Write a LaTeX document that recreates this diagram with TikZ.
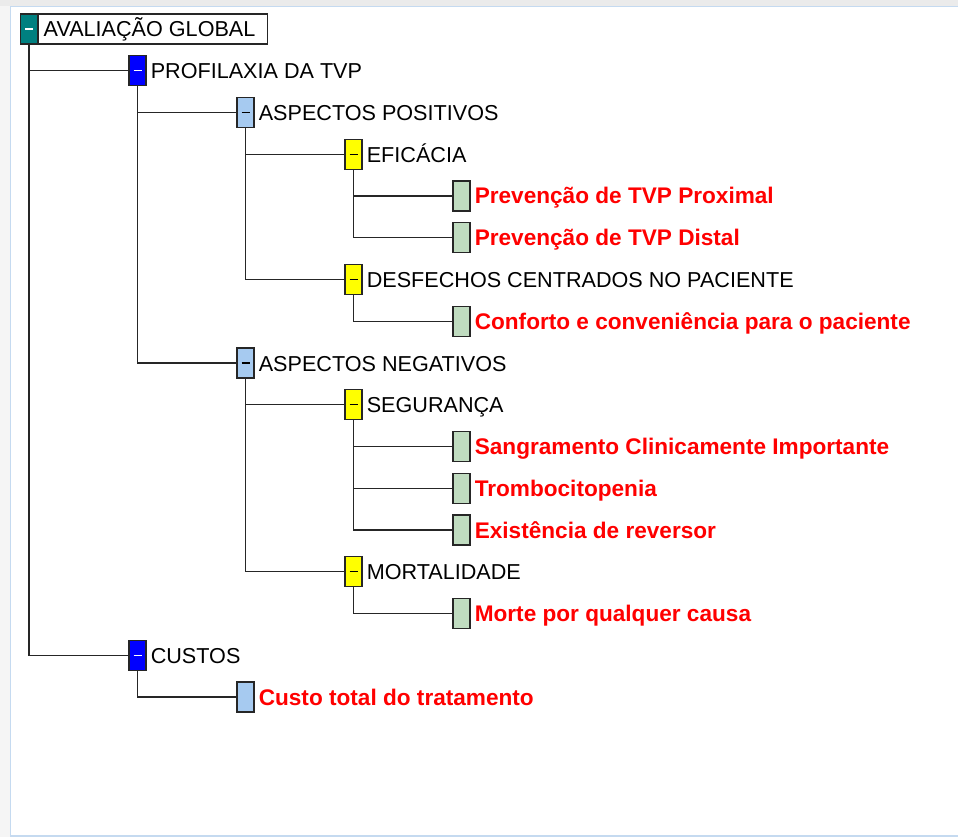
\documentclass[tikz,border=0pt]{standalone}
\usepackage{fontspec}
\setmainfont{Liberation Sans}
\usetikzlibrary{positioning}
\definecolor{tealbox}{RGB}{0,128,128}
\definecolor{bluebox}{RGB}{0,0,255}
\definecolor{skybox}{RGB}{166,202,240}
\definecolor{yellowbox}{RGB}{255,255,0}
\definecolor{greenbox}{RGB}{192,220,192}
\definecolor{framecol}{RGB}{197,218,240}
\newcommand{\boxdash}[1]{\textcolor{#1}{\rule{8pt}{1.3pt}}}
\begin{document}
\begin{tikzpicture}[x=1pt,y=-1pt,
  tbox/.style={draw=black!85,line width=1.2pt,minimum width=17pt,minimum height=30pt,inner sep=0pt},
  lvl0/.style={tbox,fill=tealbox},
  lvl1/.style={tbox,fill=bluebox},
  lvl2/.style={tbox,fill=skybox},
  lvl3/.style={tbox,fill=yellowbox},
  leaf/.style={tbox,fill=greenbox},
  txt/.style={inner sep=0pt,text height=16pt,text depth=0pt,font=\fontsize{21.6}{24}\selectfont},
  crit/.style={txt,text=red,font=\fontsize{22.6}{24}\selectfont\bfseries},
  rootlbl/.style={txt,draw=black!85,line width=1.2pt,fill=white,inner xsep=5pt,inner ysep=7pt},
  link/.style={draw=black!85,line width=1.2pt}]
% frame of the window
\useasboundingbox (0,0) rectangle (958,837);
\fill[black!8] (0,0) rectangle (958,6);
\fill[black!4] (0,6) rectangle (10,837);
\draw[framecol,line width=1.2pt] (958,6.5) -- (10.5,6.5) -- (10.5,836) -- (958,836);
% root
\node[lvl0] at (29,29) (av) {\boxdash{white}};
\node[rootlbl, right=0pt of av] (avt) {AVALIAÇÃO GLOBAL\kern7pt};
% profilaxia
\node[lvl1] at (137.5,70.75) (prof) {\boxdash{white}}; \node[txt, right=4pt of prof] (proft) {PROFILAXIA DA TVP};
\node[lvl2] at (245.5,112.5) (pos) {\boxdash{black}}; \node[txt, right=4pt of pos] (post) {ASPECTOS POSITIVOS};
\node[lvl3] at (353.5,154.25) (efic) {\boxdash{black}}; \node[txt, right=4pt of efic] (efict) {EFICÁCIA};
\node[leaf] at (461.5,196) (prox) {}; \node[crit, right=4pt of prox] (proxt) {Prevenção de TVP Proximal};
\node[leaf] at (461.5,237.75) (dist) {}; \node[crit, right=4pt of dist] (distt) {Prevenção de TVP Distal};
\node[lvl3] at (353.5,279.5) (desf) {\boxdash{black}}; \node[txt, right=4pt of desf] (desft) {DESFECHOS CENTRADOS NO PACIENTE};
\node[leaf] at (461.5,321.25) (conf) {}; \node[crit, right=4pt of conf] (conft) {Conforto e conveniência para o paciente};
% aspectos negativos
\node[lvl2] at (245.5,363) (neg) {\boxdash{black}}; \node[txt, right=4pt of neg] (negt) {ASPECTOS NEGATIVOS};
\node[lvl3] at (353.5,404.75) (seg) {\boxdash{black}}; \node[txt, right=4pt of seg] (segt) {SEGURANÇA};
\node[leaf] at (461.5,446.5) (sang) {}; \node[crit, right=4pt of sang] (sangt) {Sangramento Clinicamente Importante};
\node[leaf] at (461.5,488.25) (tromb) {}; \node[crit, right=4pt of tromb] (trombt) {Trombocitopenia};
\node[leaf] at (461.5,530) (exist) {}; \node[crit, right=4pt of exist] (existt) {Existência de reversor};
\node[lvl3] at (353.5,571.75) (mort) {\boxdash{black}}; \node[txt, right=4pt of mort] (mortt) {MORTALIDADE};
\node[leaf] at (461.5,613.5) (morte) {}; \node[crit, right=4pt of morte] (mortet) {Morte por qualquer causa};
% custos
\node[lvl1] at (137.5,655.25) (cust) {\boxdash{white}}; \node[txt, right=4pt of cust] (custt) {CUSTOS};
\node[lvl2] at (245.5,697) (ctot) {}; \node[crit, right=4pt of ctot] (ctott) {Custo total do tratamento};
% connectors
\draw[link] (av.south) |- (prof.west) (av.south) |- (cust.west);
\draw[link] (prof.south) |- (pos.west) (prof.south) |- (neg.west);
\draw[link] (pos.south) |- (efic.west) (pos.south) |- (desf.west);
\draw[link] (efic.south) |- (prox.west) (efic.south) |- (dist.west);
\draw[link] (desf.south) |- (conf.west);
\draw[link] (neg.south) |- (seg.west) (neg.south) |- (mort.west);
\draw[link] (seg.south) |- (sang.west) (seg.south) |- (tromb.west) (seg.south) |- (exist.west);
\draw[link] (mort.south) |- (morte.west);
\draw[link] (cust.south) |- (ctot.west);
\end{tikzpicture}
\end{document}
